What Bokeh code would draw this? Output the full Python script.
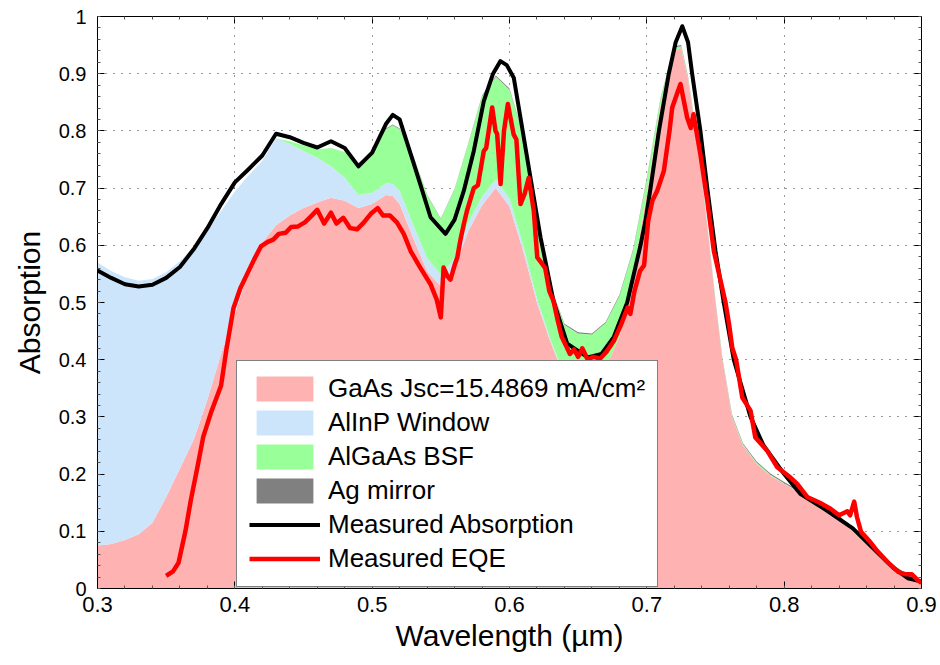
import numpy as np
from bokeh.plotting import figure
from bokeh.models import (ColumnDataSource, Legend, LegendItem, FixedTicker,
                          LinearAxis, Range1d)
from bokeh.embed import file_html
from bokeh.resources import INLINE

# ---------------- data ----------------
sim_wl = [0.30, 0.31, 0.32, 0.33, 0.34, 0.35, 0.36, 0.37, 0.38, 0.39, 0.40,
          0.41, 0.42, 0.43, 0.44, 0.45, 0.46, 0.47, 0.48, 0.49, 0.50, 0.51,
          0.515, 0.52, 0.53, 0.54, 0.55, 0.56, 0.57, 0.58, 0.59, 0.60, 0.61,
          0.62, 0.63, 0.64, 0.65, 0.66, 0.67, 0.68, 0.69, 0.70, 0.71, 0.72,
          0.725, 0.73, 0.735, 0.74, 0.745, 0.75, 0.755, 0.762, 0.77, 0.78,
          0.79, 0.80, 0.82, 0.84, 0.86, 0.88, 0.89, 0.90]

gaas = [0.075, 0.078, 0.085, 0.095, 0.115, 0.160, 0.210, 0.260, 0.330, 0.410,
        0.480, 0.555, 0.605, 0.635, 0.652, 0.665, 0.675, 0.683, 0.678, 0.665,
        0.672, 0.688, 0.686, 0.672, 0.612, 0.555, 0.528, 0.560, 0.625, 0.670,
        0.700, 0.668, 0.590, 0.500, 0.430, 0.370, 0.335, 0.340, 0.385, 0.440,
        0.550, 0.690, 0.845, 0.940, 0.945, 0.890, 0.810, 0.715, 0.610, 0.500,
        0.400, 0.300, 0.250, 0.218, 0.197, 0.183, 0.155, 0.122, 0.078, 0.034,
        0.018, 0.008]

alinp = [0.495, 0.477, 0.459, 0.443, 0.426, 0.393, 0.362, 0.337, 0.297, 0.250,
         0.214, 0.167, 0.143, 0.152, 0.125, 0.100, 0.078, 0.055, 0.040, 0.023,
         0.020, 0.020, 0.021, 0.023, 0.023, 0.023, 0.020, 0.018, 0.015, 0.015,
         0.015, 0.014, 0.010, 0.007, 0.004, 0.002, 0.001, 0.001, 0.0, 0.0,
         0.0, 0.0, 0.0, 0.0, 0.0, 0.0, 0.0, 0.0, 0.0, 0.0,
         0.0, 0.0, 0.0, 0.0, 0.0, 0.0, 0.0, 0.0, 0.0, 0.0,
         0.0, 0.0]

algaas = [0.0, 0.0, 0.0, 0.0, 0.0, 0.0, 0.0, 0.0, 0.0, 0.0,
          0.0, 0.0, 0.0, 0.0, 0.005, 0.010, 0.015, 0.032, 0.045, 0.055,
          0.071, 0.095, 0.103, 0.108, 0.120, 0.110, 0.098, 0.120, 0.138, 0.175,
          0.180, 0.190, 0.191, 0.139, 0.092, 0.089, 0.110, 0.103, 0.079, 0.071,
          0.041, 0.026, 0.011, 0.006, 0.003, 0.003, 0.002, 0.002, 0.002, 0.002,
          0.002, 0.002, 0.002, 0.002, 0.002, 0.001, 0.001, 0.001, 0.001, 0.001,
          0.001, 0.001]

ag = [0.0, 0.0, 0.0, 0.0, 0.0, 0.0, 0.0, 0.0, 0.0, 0.0,
      0.0, 0.0, 0.0, 0.0, 0.0, 0.0, 0.0, 0.0, 0.0, 0.001,
      0.001, 0.001, 0.001, 0.001, 0.001, 0.001, 0.001, 0.001, 0.001, 0.002,
      0.002, 0.002, 0.002, 0.002, 0.002, 0.002, 0.002, 0.002, 0.002, 0.002,
      0.002, 0.002, 0.002, 0.002, 0.002, 0.002, 0.002, 0.002, 0.002, 0.002,
      0.002, 0.002, 0.002, 0.002, 0.002, 0.002, 0.003, 0.004, 0.004, 0.005,
      0.005, 0.005]

abs_wl = [0.30, 0.31, 0.32, 0.33, 0.34, 0.35, 0.36, 0.37, 0.38, 0.39, 0.40,
          0.41, 0.42, 0.43, 0.44, 0.45, 0.46, 0.47, 0.48, 0.49, 0.50, 0.51,
          0.515, 0.52, 0.53, 0.535, 0.5425, 0.5534, 0.56, 0.5667, 0.574,
          0.5813, 0.588, 0.5934, 0.598, 0.6031, 0.608, 0.6153, 0.6226, 0.632,
          0.642, 0.657, 0.667, 0.676, 0.6857, 0.6954, 0.699, 0.7027, 0.7088,
          0.716, 0.721, 0.7258, 0.730, 0.733, 0.739, 0.744, 0.750, 0.756,
          0.7633, 0.7755, 0.785, 0.800, 0.812, 0.830, 0.850, 0.870, 0.880,
          0.890, 0.900]
meas_abs = [0.556, 0.543, 0.532, 0.528, 0.531, 0.543, 0.562, 0.593, 0.630,
            0.672, 0.710, 0.733, 0.757, 0.795, 0.789, 0.779, 0.771, 0.782,
            0.770, 0.738, 0.762, 0.812, 0.828, 0.820, 0.745, 0.707, 0.649,
            0.620, 0.645, 0.695, 0.765, 0.852, 0.900, 0.922, 0.915, 0.893,
            0.823, 0.718, 0.614, 0.503, 0.428, 0.404, 0.410, 0.440, 0.500,
            0.600, 0.643, 0.700, 0.800, 0.900, 0.955, 0.983, 0.955, 0.900,
            0.800, 0.700, 0.590, 0.500, 0.400, 0.300, 0.250, 0.200, 0.165,
            0.138, 0.105, 0.058, 0.035, 0.018, 0.012]

eqe_wl = [0.350, 0.355, 0.359, 0.364, 0.368, 0.373, 0.377, 0.383, 0.390,
          0.394, 0.399, 0.404, 0.409, 0.414, 0.419, 0.424, 0.428, 0.432,
          0.437, 0.441, 0.446, 0.451, 0.456, 0.460, 0.465, 0.470, 0.474,
          0.479, 0.484, 0.489, 0.494, 0.499, 0.504, 0.508, 0.513, 0.518,
          0.523, 0.528, 0.535, 0.5425, 0.547, 0.550, 0.552, 0.555, 0.557,
          0.560, 0.562, 0.5643, 0.567, 0.569, 0.574, 0.577, 0.5813, 0.583,
          0.5874, 0.5898, 0.591, 0.5935, 0.596, 0.5988, 0.603, 0.605, 0.608,
          0.611, 0.614, 0.6177, 0.6202, 0.623, 0.626, 0.629, 0.632, 0.635,
          0.638, 0.641, 0.644, 0.647, 0.650, 0.653, 0.657, 0.661, 0.666,
          0.671, 0.676, 0.681, 0.686, 0.688, 0.691, 0.695, 0.698, 0.701,
          0.704, 0.7075, 0.7124, 0.7165, 0.7185, 0.722, 0.7245, 0.7294,
          0.732, 0.734, 0.739, 0.744, 0.7488, 0.7573, 0.760, 0.7622, 0.765,
          0.7695, 0.7755, 0.779, 0.7876, 0.795, 0.8046, 0.8095, 0.8168,
          0.826, 0.834, 0.840, 0.846, 0.848, 0.851, 0.853, 0.856, 0.862,
          0.868, 0.875, 0.883, 0.888, 0.893, 0.897, 0.900]
eqe = [0.022, 0.030, 0.045, 0.100, 0.155, 0.215, 0.265, 0.310, 0.355,
       0.420, 0.490, 0.525, 0.550, 0.575, 0.598, 0.606, 0.610, 0.620,
       0.622, 0.632, 0.633, 0.640, 0.652, 0.662, 0.638, 0.657, 0.638,
       0.648, 0.630, 0.628, 0.640, 0.655, 0.665, 0.652, 0.652, 0.640,
       0.620, 0.590, 0.561, 0.532, 0.505, 0.474, 0.561, 0.545, 0.540,
       0.565, 0.579, 0.610, 0.640, 0.660, 0.700, 0.705, 0.765, 0.770,
       0.841, 0.800, 0.795, 0.707, 0.800, 0.847, 0.794, 0.785, 0.672,
       0.690, 0.718, 0.660, 0.579, 0.570, 0.560, 0.520, 0.503, 0.470,
       0.440, 0.425, 0.410, 0.418, 0.405, 0.420, 0.400, 0.405, 0.402,
       0.415, 0.433, 0.460, 0.491, 0.480, 0.520, 0.555, 0.565, 0.643,
       0.678, 0.695, 0.730, 0.800, 0.841, 0.865, 0.882, 0.823,
       0.805, 0.829, 0.759, 0.678, 0.590, 0.500, 0.460, 0.421, 0.400,
       0.334, 0.311, 0.264, 0.241, 0.212, 0.194, 0.183, 0.160,
       0.150, 0.139, 0.128, 0.135, 0.128, 0.152, 0.125, 0.099, 0.083,
       0.065, 0.047, 0.029, 0.025, 0.025, 0.015, 0.010]

x_ticks = [0.3, 0.4, 0.5, 0.6, 0.7, 0.8, 0.9]
y_ticks = [0.0, 0.1, 0.2, 0.3, 0.4, 0.5, 0.6, 0.7, 0.8, 0.9, 1.0]
y_tick_labels = ["0", "0.1", "0.2", "0.3", "0.4", "0.5", "0.6", "0.7", "0.8", "0.9", "1"]

layer_names = ["GaAs Jsc=15.4869 mA/cm\u00b2", "AlInP Window", "AlGaAs BSF", "Ag mirror"]
layer_colors = ["#ffb2b2", "#cce5fb", "#99ff99", "#808080"]
line_names = ["Measured Absorption", "Measured EQE"]
line_colors = ["#000000", "#ff0000"]

# ---------------- figure ----------------
FONT = "Liberation Sans"
p = figure(width=938, height=663, x_range=Range1d(0.3, 0.9), y_range=Range1d(0, 1),
           output_backend="svg", toolbar_location=None,
           min_border_left=97, min_border_right=17, min_border_top=16, min_border_bottom=75)
p.background_fill_color = "white"
p.border_fill_color = "white"
p.outline_line_color = "black"
p.outline_line_width = 1

# stacked areas
layers = [gaas, alinp, algaas, ag]
base = np.zeros(len(sim_wl))
area_renderers = []
for vals, col in zip(layers, layer_colors):
    top = base + np.array(vals)
    src = ColumnDataSource(dict(x=sim_wl, y1=base.copy(), y2=top.copy()))
    r = p.varea(x="x", y1="y1", y2="y2", source=src, fill_color=col, fill_alpha=1.0)
    area_renderers.append(r)
    base = top

r_abs = p.line(abs_wl, meas_abs, line_color=line_colors[0], line_width=4, line_join="round")
r_eqe = p.line(eqe_wl, eqe, line_color=line_colors[1], line_width=4.5, line_join="round")

# axes
xa = p.xaxis[0]
ya = p.yaxis[0]
xa.ticker = FixedTicker(ticks=x_ticks, minor_ticks=[0.3 + 0.02 * i for i in range(31)])
ya.ticker = FixedTicker(ticks=y_ticks, minor_ticks=[0.02 * i for i in range(51)])
ya.major_label_overrides = {t: s for t, s in zip(y_ticks, y_tick_labels)}
xa.major_label_overrides = {t: f"{t:.1f}" for t in x_ticks}
for ax in (xa, ya):
    ax.axis_line_color = "black"
    ax.major_tick_in = 7
    ax.major_tick_out = 0
    ax.minor_tick_in = 3
    ax.minor_tick_out = 0
    ax.major_tick_line_color = "black"
    ax.minor_tick_line_color = "#555555"
    ax.major_label_text_font = FONT
    ax.major_label_text_color = "black"
    ax.axis_label_text_font = FONT
    ax.axis_label_text_font_style = "normal"
    ax.axis_label_text_color = "black"
    ax.axis_label_text_font_size = "30px"
xa.major_label_text_font_size = "22px"
ya.major_label_text_font_size = "20px"
xa.major_label_standoff = 8
ya.major_label_standoff = 11
xa.axis_label = "Wavelength (\u00b5m)"
ya.axis_label = "Absorption"
xa.axis_label_standoff = 4
ya.axis_label_standoff = 10

# box-style ticks on top and right (no labels)
for loc, rng_ticks, minors in (("right", y_ticks, [0.02 * i for i in range(51)]),
                               ("above", x_ticks, [0.3 + 0.02 * i for i in range(31)])):
    ax2 = LinearAxis(ticker=FixedTicker(ticks=rng_ticks, minor_ticks=minors),
                     major_label_text_font_size="0px", major_label_standoff=0,
                     major_tick_in=7, major_tick_out=0, minor_tick_in=3, minor_tick_out=0,
                     axis_line_color="black", major_tick_line_color="black",
                     minor_tick_line_color="#555555")
    ax2.major_label_overrides = {t: "" for t in rng_ticks}
    p.add_layout(ax2, loc)

# grid
for g in (p.xgrid[0], p.ygrid[0]):
    g.grid_line_color = "black"
    g.grid_line_alpha = 0.8
    g.grid_line_dash = "1 7"
    g.grid_line_width = 1
p.xgrid[0].ticker = FixedTicker(ticks=x_ticks)
p.ygrid[0].ticker = FixedTicker(ticks=y_ticks)

# legend
items = [LegendItem(label=n, renderers=[r]) for n, r in zip(layer_names, area_renderers)]
items += [LegendItem(label=line_names[0], renderers=[r_abs]),
          LegendItem(label=line_names[1], renderers=[r_eqe])]
legend = Legend(items=items, location=(139, 1),
                glyph_width=71, glyph_height=31, spacing=3, padding=12,
                label_standoff=8, label_text_font=FONT, label_text_font_size="26px",
                label_text_color="black", label_height=31,
                border_line_color="black", border_line_width=1.5,
                background_fill_color="white", background_fill_alpha=1.0,
                margin=0)
p.add_layout(legend)

open("out.html", "w").write(file_html(p, INLINE))
